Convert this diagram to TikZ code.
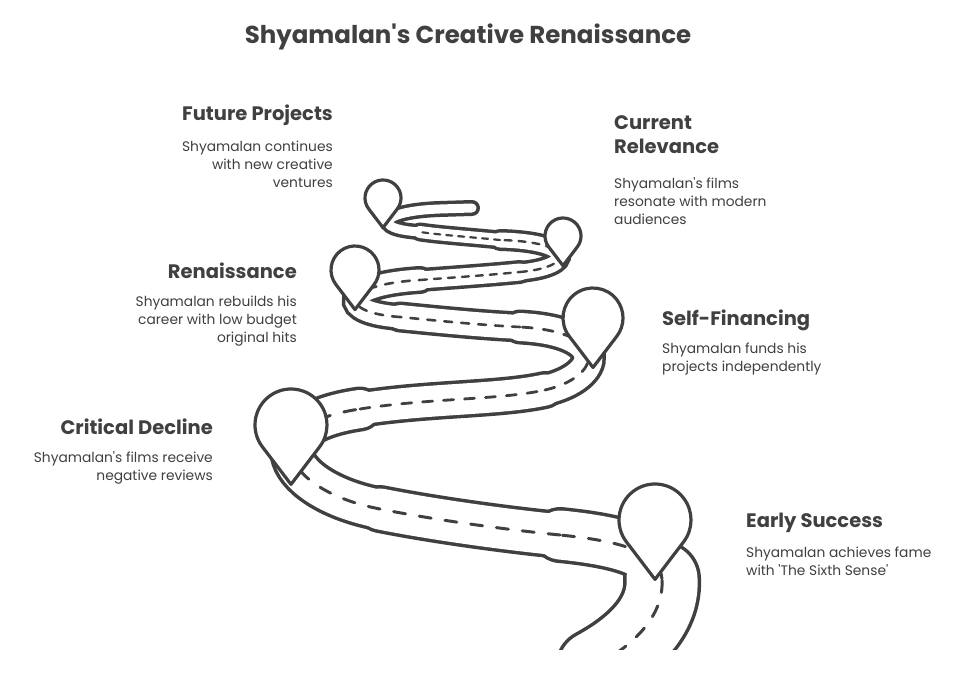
\documentclass[tikz,border=0pt]{standalone}
\usepackage{fontspec}
\setmainfont{Poppins}[Ligatures=TeXOff]
\definecolor{ink}{HTML}{404040}
\def\pAa{(594,20) .. controls (640,45) and (664,75) .. (662,108)}
\def\pAb{(662,108) .. controls (660,135) and (620,146) .. (560,152)}
\def\pB{(560,152) .. controls (500,158) and (430,168) .. (380,178)}
\def\pC{(380,178) .. controls (285,196) and (250,262) .. (360,278)}
\def\pD{(360,278) .. controls (430,289) and (500,287) .. (545,297)}
\def\pE{(545,297) .. controls (602,310) and (612,355) .. (520,360)}
\def\pF{(520,360) .. controls (480,362) and (440,366) .. (400,370)}
\def\pG{(400,370) .. controls (338,374) and (338,402) .. (420,407)}
\def\pH{(420,407) .. controls (460,410) and (490,412) .. (520,415)}
\def\pI{(520,415) .. controls (576,420) and (576,445) .. (500,447)}
\def\pJ{(500,447) .. controls (470,450) and (440,452) .. (420,455)}
\def\pK{(420,455) .. controls (370,458) and (380,476) .. (440,478) -- (472,479)}
\newcommand\roadpass[2]{%
\draw[#1,line width={78pt-#2}] \pAa;
\draw[#1,line width={56pt-#2}] \pAb;
\draw[#1,line width={48pt-#2}] \pB;
\draw[#1,line width={45pt-#2}] \pC;
\draw[#1,line width={38pt-#2}] \pD;
\draw[#1,line width={35pt-#2}] \pE;
\draw[#1,line width={31pt-#2}] \pF;
\draw[#1,line width={28pt-#2}] \pG;
\draw[#1,line width={24pt-#2}] \pH;
\draw[#1,line width={22pt-#2}] \pI;
\draw[#1,line width={19pt-#2}] \pJ;
\draw[#1,line width={16pt-#2}] \pK;}
\newcommand\pinat[3]{%
\draw[pin] (#1,#2) ++(217.3:#3) arc[start angle=217.3,end angle=-37.3,radius=#3] -- (#1,#2-1.65*#3) -- cycle;}
\tikzset{pin/.style={draw=ink,fill=white,line width=3.2pt,line join=round},
laneline/.style={ink,line width=3pt,dash pattern=on 12pt off 14pt},
head/.style={font=\bfseries\fontsize{19.5}{22}\selectfont,text=ink,inner sep=0},
desc/.style={font=\fontsize{13.8}{18}\selectfont,text=ink,inner sep=0}}
\begin{document}
\begin{tikzpicture}[x=1pt,y=1pt,line cap=round]
\useasboundingbox (0,0) rectangle (963,687);
\fill[white] (0,0) rectangle (963,687);
\begin{scope}
\clip (0,37) rectangle (963,687);
\roadpass{ink}{0pt}
\roadpass{white}{7pt}
\draw[laneline] \pAa; \draw[laneline] \pAb; \draw[laneline] \pB; \draw[laneline] \pC;
\draw[laneline,line width=2.8pt,dash pattern=on 10pt off 11pt] \pD; \draw[laneline,line width=2.8pt,dash pattern=on 10pt off 11pt] \pE;
\draw[laneline,line width=2.6pt,dash pattern=on 8pt off 9pt] \pF; \draw[laneline,line width=2.6pt,dash pattern=on 8pt off 9pt] \pG;
\draw[laneline,line width=2.4pt,dash pattern=on 7pt off 7pt] \pH; \draw[laneline,line width=2.4pt,dash pattern=on 7pt off 7pt] \pI;
\draw[laneline,line width=2.2pt,dash pattern=on 6pt off 6pt] \pJ;
\end{scope}
\pinat{655}{167}{36}
\pinat{291}{262}{36}
\pinat{593}{369}{30}
\pinat{355}{417}{24}
\pinat{563}{451}{18}
\pinat{383}{489}{18}
\node[head,font=\bfseries\fontsize{24.5}{28}\selectfont] (title) at (468,650) {Shyamalan's Creative Renaissance};
\node[head,anchor=east] (h1) at (333,572) {Future Projects};
\node[desc,anchor=north east,align=right] (d1) at (333,546) {Shyamalan continues\\with new creative\\ventures};
\node[head,anchor=north west,align=left,font=\bfseries\fontsize{19.5}{24}\selectfont] (h2) at (614,572) {Current\\Relevance};
\node[desc,anchor=north west,align=left] (d2) at (614,510) {Shyamalan's films\\resonate with modern\\audiences};
\node[head,anchor=east] (h3) at (297,416) {Renaissance};
\node[desc,anchor=north east,align=right] (d3) at (297,391) {Shyamalan rebuilds his\\career with low budget\\original hits};
\node[head,anchor=west] (h4) at (662,367) {Self-Financing};
\node[desc,anchor=north west,align=left] (d4) at (662,344) {Shyamalan funds his\\projects independently};
\node[head,anchor=east] (h5) at (213,260) {Critical Decline};
\node[desc,anchor=north east,align=right] (d5) at (213,236) {Shyamalan's films receive\\negative reviews};
\node[head,anchor=west] (h6) at (746,164) {Early Success};
\node[desc,anchor=north west,align=left] (d6) at (746,140) {Shyamalan achieves fame\\with 'The Sixth Sense'};
\end{tikzpicture}
\end{document}
